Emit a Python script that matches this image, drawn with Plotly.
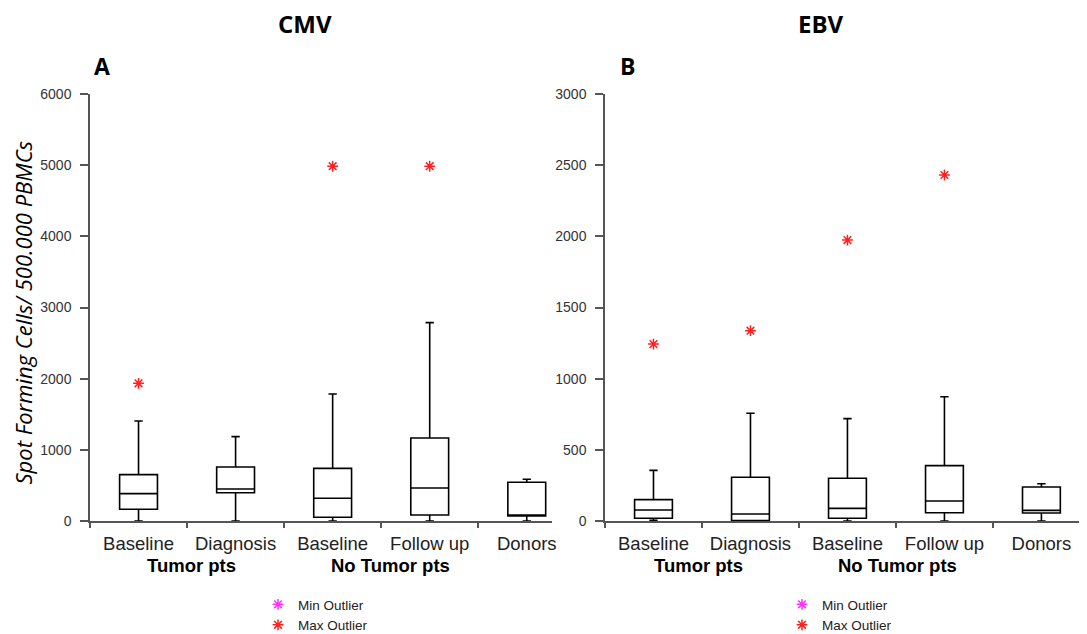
import plotly.graph_objects as go

# ---------------- data ----------------
categories = ["Baseline", "Diagnosis", "Baseline", "Follow up", "Donors"]
positions = [0, 1, 2, 3, 4]

# Panel A: CMV
cmv_lower = [0, 0, 0, 0, 0]
cmv_q1 = [165, 398, 52, 84, 70]
cmv_median = [384, 450, 320, 464, 85]
cmv_q3 = [651, 759, 740, 1166, 544]
cmv_upper = [1405, 1185, 1784, 2787, 586]
cmv_out_x = [0, 2, 3]
cmv_out_y = [1935, 4985, 4985]

# Panel B: EBV
ebv_lower = [5, 0, 0, 0, 0]
ebv_q1 = [19, 3, 19, 58, 56]
ebv_median = [77, 49, 89, 140, 75]
ebv_q3 = [150, 307, 300, 389, 239]
ebv_upper = [356, 757, 719, 873, 262]
ebv_out_x = [0, 1, 2, 3]
ebv_out_y = [1243, 1337, 1974, 2431]

cmv_yticks = [0, 1000, 2000, 3000, 4000, 5000, 6000]
ebv_yticks = [0, 500, 1000, 1500, 2000, 2500, 3000]

group_labels = ["Tumor pts", "No Tumor pts"]
group_pos_a = [0.55, 2.6]
group_pos_b = [0.46, 2.52]

# ---------------- figure ----------------
OFF = 8  # page body margin
W, H = 1087 - OFF, 634 - OFF
FONT = "Liberation Sans, Arial, sans-serif"
AXC = "#555555"

fig = go.Figure()

def add_panel(xa, ya, lower, q1, med, q3, upper, ox, oy, legend):
    fig.add_trace(go.Box(
        x=positions, q1=q1, median=med, q3=q3, lowerfence=lower, upperfence=upper,
        xaxis=xa, yaxis=ya, width=0.39, whiskerwidth=0.22,
        line=dict(color="black", width=1.6), fillcolor="white",
        boxpoints=False, showlegend=False, hoverinfo="skip"))
    fig.add_trace(go.Scatter(
        x=[None], y=[None], xaxis=xa, yaxis=ya, mode="markers",
        name="Min Outlier", legend=legend,
        marker=dict(symbol="asterisk-open", size=9, color="#ff33ff",
                    line=dict(color="#ff33ff", width=1.5))))
    fig.add_trace(go.Scatter(
        x=ox, y=oy, xaxis=xa, yaxis=ya, mode="markers",
        name="Max Outlier", legend=legend,
        marker=dict(symbol="asterisk-open", size=9, color="#ff2020",
                    line=dict(color="#ff2020", width=1.5))))

add_panel("x", "y", cmv_lower, cmv_q1, cmv_median, cmv_q3, cmv_upper,
          cmv_out_x, cmv_out_y, "legend")
add_panel("x2", "y2", ebv_lower, ebv_q1, ebv_median, ebv_q3, ebv_upper,
          ebv_out_x, ebv_out_y, "legend2")

def px(x):
    return (x - OFF) / W

def py(y):
    return 1 - (y - OFF) / H

ydom = [py(521), py(94)]

def xaxis(domain, anchor, rng):
    return dict(domain=domain, anchor=anchor, range=rng,
                tickmode="array", tickvals=positions, ticktext=categories,
                ticks="", showline=True, linecolor=AXC, linewidth=1.5,
                showgrid=False, zeroline=False, ticklabelstandoff=5,
                automargin=False,
                tickfont=dict(family=FONT, size=18.5, color="#222222"),
                minor=dict(tickmode="array", tickvals=[-0.5, 0.5, 1.5, 2.5, 3.5, 4.5],
                           ticks="outside", ticklen=5, tickcolor=AXC, tickwidth=1.5,
                           showgrid=False))

def yaxis(domain, anchor, rng, tv):
    return dict(domain=domain, anchor=anchor, range=rng,
                tickmode="array", tickvals=tv,
                ticks="outside", ticklen=8, tickcolor=AXC, tickwidth=1.5,
                showline=True, linecolor=AXC, linewidth=1.5,
                showgrid=False, zeroline=False, ticklabelstandoff=6,
                automargin=False,
                tickfont=dict(family=FONT, size=14, color="#333333"))

legend_common = dict(bgcolor="rgba(0,0,0,0)", borderwidth=0, orientation="v",
                     itemwidth=30, tracegroupgap=0, xanchor="left", yanchor="top",
                     font=dict(family=FONT, size=13.5, color="#222222"))

fig.update_layout(
    width=W, height=H,
    margin=dict(l=0, r=0, t=0, b=0, autoexpand=False),
    paper_bgcolor="white", plot_bgcolor="white",
    xaxis=xaxis([px(90), px(552)], "y", [-0.5, 4.26]),
    yaxis=yaxis(ydom, "x", [0, 6000], cmv_yticks),
    xaxis2=xaxis([px(605), 1.0], "y2", [-0.5, 4.47]),
    yaxis2=yaxis(ydom, "x2", [0, 3000], ebv_yticks),
    legend=dict(x=px(258), y=py(589), **legend_common),
    legend2=dict(x=px(782), y=py(589), **legend_common),
    showlegend=True,
)

anns = []
title_font = dict(family="Open Sans, sans-serif", size=24, color="black")
letter_font = dict(family="Open Sans, sans-serif", size=23, color="black")
anns.append(dict(text="<b>CMV</b>", x=px(305), y=py(23), xref="paper", yref="paper",
                 showarrow=False, font=title_font, xanchor="center", yanchor="middle",
                 borderpad=0))
anns.append(dict(text="<b>EBV</b>", x=px(821), y=py(23), xref="paper", yref="paper",
                 showarrow=False, font=title_font, xanchor="center", yanchor="middle",
                 borderpad=0))
anns.append(dict(text="<b>A</b>", x=px(102), y=py(66), xref="paper", yref="paper",
                 showarrow=False, font=letter_font, xanchor="center", yanchor="middle"))
anns.append(dict(text="<b>B</b>", x=px(627), y=py(66), xref="paper", yref="paper",
                 showarrow=False, font=letter_font, xanchor="center", yanchor="middle"))
anns.append(dict(text="<i>Spot Forming Cells/ 500.000 PBMCs</i>", x=px(22.5), y=py(313),
                 xref="paper", yref="paper", showarrow=False, textangle=-90,
                 font=dict(family="Open Sans, sans-serif", size=22, color="black"),
                 xanchor="center", yanchor="middle", borderpad=0))
for xr, gp in (("x", group_pos_a), ("x2", group_pos_b)):
    for lab, gx in zip(group_labels, gp):
        anns.append(dict(text="<b>" + lab + "</b>", x=gx, y=py(565), xref=xr, yref="paper",
                         showarrow=False, xanchor="center", yanchor="middle",
                         font=dict(family=FONT, size=18.5, color="black")))
fig.update_layout(annotations=anns)

fig.write_html("out.html")
